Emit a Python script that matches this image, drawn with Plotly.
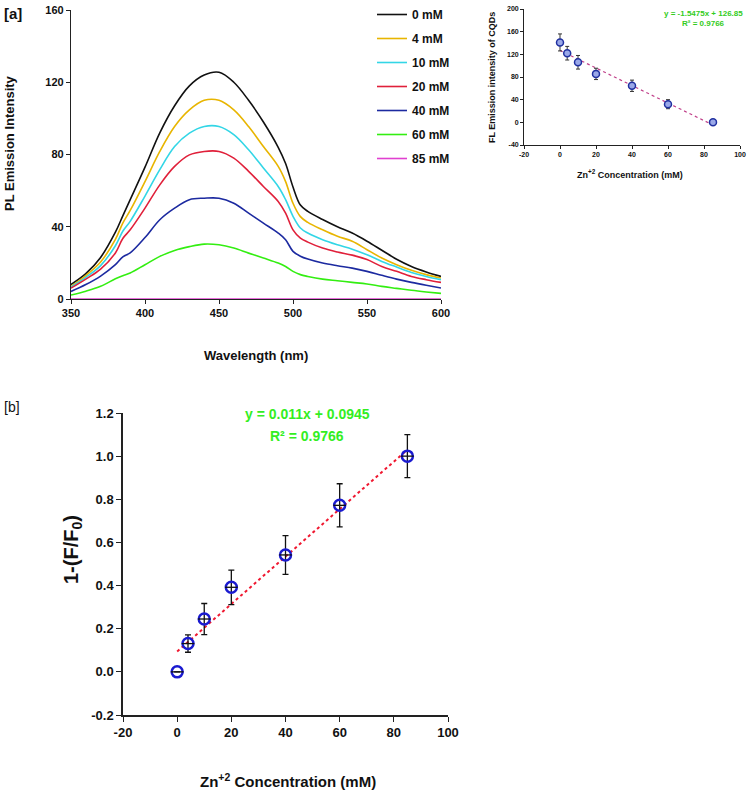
import plotly.graph_objects as go

# ---------------- data ----------------
wavelength = [350, 360, 370, 380, 385, 390, 400, 410, 420, 430, 440, 450, 460, 470, 480,
              490, 495, 500, 505, 510, 520, 530, 540, 550, 560, 570, 580, 590, 600]
pl_0mM = [8, 14, 23, 37, 46, 55, 73, 92, 107, 118, 124, 125.5, 120, 110, 98,
          84, 75, 62, 52, 48.5, 44, 40, 36.5, 32, 27, 22, 18, 15, 12.5]
pl_4mM = [7, 13, 20.5, 33, 42, 49, 65, 81.7, 95.5, 104.7, 110, 110, 104.7, 95.5, 84.4,
          73.4, 65, 53, 45.6, 42.4, 38.3, 34.7, 32, 27.3, 22.7, 19, 15.9, 13.5, 11.6]
pl_10mM = [6.6, 12, 18.5, 29.5, 37.5, 43, 57, 71.6, 84.4, 91.8, 95.5, 95.5, 91, 82.6, 72.5,
           62.3, 55, 45.8, 39.3, 36.5, 32.8, 30, 27.6, 24.5, 20.8, 17.7, 14.7, 12.5, 10.7]
pl_20mM = [6, 11, 16.5, 25.5, 33.5, 38.3, 50.3, 63.2, 73.4, 79.8, 81.7, 81.7, 78, 70.7, 62.3,
           54, 47.5, 38.3, 33.7, 31.5, 28.2, 26, 24.3, 21.8, 18, 15.3, 12.5, 10.7, 9.2]
pl_40mM = [4.2, 8, 12.7, 19, 23.3, 25.5, 34, 43.9, 50.3, 55, 55.8, 55.8, 53, 47.5, 42,
           36.5, 32.8, 26.4, 23.7, 22.1, 19.9, 18.4, 17.1, 15.3, 13.1, 11, 9.2, 7.6, 6.1]
pl_60mM = [2.2, 4.3, 7, 11.2, 12.9, 14.4, 19, 23.6, 26.9, 29, 30.4, 30, 28.2, 25.4, 22.7,
           19.9, 18, 15.3, 13.5, 12.5, 11, 10.1, 9.2, 8.3, 7, 5.9, 4.8, 3.9, 3.1]
pl_85mM = [0, 0, 0, 0, 0, 0, 0, 0, 0, 0, 0, 0, 0, 0, 0,
           0, 0, 0, 0, 0, 0, 0, 0, 0, 0, 0, 0, 0, 0]
spectra_labels = ["0 mM", "4 mM", "10 mM", "20 mM", "40 mM", "60 mM", "85 mM"]
spectra_colors = ["#111111", "#e8b500", "#33d6e6", "#e0203a", "#1c2aa0", "#33ee11", "#e040d0"]

conc = [0, 4, 10, 20, 40, 60, 85]
fl_intensity = [141, 122, 106, 85.5, 64.5, 32, 0]
fl_err = [15, 12, 12, 10, 10, 8, 2]
fl_slope, fl_intercept = -1.5475, 126.85

quench = [0, 0.131, 0.245, 0.392, 0.542, 0.772, 1.0]
quench_err = [0, 0.04, 0.072, 0.08, 0.09, 0.1, 0.1]
q_slope, q_intercept = 0.011, 0.0945
trend_x = [0, 85]

conc_ticks = [-20, 0, 20, 40, 60, 80, 100]
conc_ticktext = ["-20", "0", "20", "40", "60", "80", "100"]
fl_ticks = [-40, 0, 40, 80, 120, 160, 200]
fl_ticktext = ["-40", "0", "40", "80", "120", "160", "200"]
q_ticks = [-0.2, 0, 0.2, 0.4, 0.6, 0.8, 1.0, 1.2]
q_ticktext = ["-0.2", "0.0", "0.2", "0.4", "0.6", "0.8", "1.0", "1.2"]

FONT = "Liberation Sans, Arial, sans-serif"

fig = go.Figure()

# ---------------- panel a ----------------
series = [pl_0mM, pl_4mM, pl_10mM, pl_20mM, pl_40mM, pl_60mM, pl_85mM]
for i, (lab, ys, col) in enumerate(zip(spectra_labels, series, spectra_colors)):
    fig.add_trace(go.Scatter(x=wavelength, y=ys, mode="lines", name=lab,
                             line=dict(color=col, width=1.6, shape="spline", smoothing=1.0),
                             legendgroup=f"g{i}", xaxis="x", yaxis="y"))

# ---------------- inset ----------------
fig.add_trace(go.Scatter(x=trend_x, y=[fl_slope * v + fl_intercept for v in trend_x],
                         mode="lines", line=dict(color="#c0408a", width=1.2, dash="dot"),
                         showlegend=False, xaxis="x2", yaxis="y2"))
fig.add_trace(go.Scatter(x=conc, y=fl_intensity, mode="markers",
                         error_y=dict(type="data", array=fl_err, color="#333333", thickness=1, width=2),
                         marker=dict(symbol="circle", size=7, color="#9aa8e8",
                                     line=dict(color="#2030a0", width=1.5)),
                         showlegend=False, xaxis="x2", yaxis="y2"))

# ---------------- panel b ----------------
fig.add_trace(go.Scatter(x=trend_x, y=[q_slope * v + q_intercept for v in trend_x],
                         mode="lines", line=dict(color="#f01830", width=2, dash="dot"),
                         showlegend=False, xaxis="x3", yaxis="y3"))
fig.add_trace(go.Scatter(x=conc, y=quench, mode="markers",
                         error_y=dict(type="data", array=quench_err, color="#111111", thickness=1.3, width=3),
                         marker=dict(symbol="circle-open", size=11, color="#1a1ad0",
                                     line=dict(color="#1a1ad0", width=2.5)),
                         showlegend=False, xaxis="x3", yaxis="y3"))
fig.add_trace(go.Scatter(x=conc, y=quench, mode="markers",
                         marker=dict(symbol="line-ew", size=9, color="#111111",
                                     line=dict(color="#111111", width=1.3)),
                         showlegend=False, hoverinfo="skip", xaxis="x3", yaxis="y3"))

W, H = 750, 794
def px(x): return x / W
def py(y): return 1 - y / H

axis_common = dict(showgrid=False, zeroline=False, showline=True, linecolor="#222222",
                   ticks="outside", tickcolor="#222222", mirror=False, automargin=False)

fig.update_layout(
    width=W, height=H, margin=dict(l=0, r=0, t=0, b=0, pad=0, autoexpand=False),
    paper_bgcolor="white", plot_bgcolor="white",
    font=dict(family=FONT, color="#111111"),
    showlegend=True,
    legend=dict(x=px(372), y=1.0, xanchor="left", yanchor="top",
                font=dict(family=FONT, size=12, weight="bold"),
                traceorder="grouped", tracegroupgap=5, itemwidth=30,
                bgcolor="rgba(0,0,0,0)"),
    xaxis=dict(domain=[px(71), px(441)], range=[350, 600], anchor="y",
               tickvals=[350, 400, 450, 500, 550, 600], ticklen=4, linewidth=1.2,
               tickfont=dict(size=11, weight="bold"), **axis_common),
    yaxis=dict(domain=[py(299), py(10)], range=[0, 160], anchor="x",
               tickvals=[0, 40, 80, 120, 160], ticklen=4, linewidth=1.2,
               tickfont=dict(size=11, weight="bold"), **axis_common),
    xaxis2=dict(domain=[px(524), px(740)], range=[-20, 100], anchor="y2",
                tickvals=conc_ticks, ticktext=conc_ticktext, ticklen=3, linewidth=0.8,
                tickfont=dict(size=7, weight="bold"), **axis_common),
    yaxis2=dict(domain=[py(145), py(9)], range=[-40, 200], anchor="x2",
                tickvals=fl_ticks, ticktext=fl_ticktext, ticklen=3, linewidth=0.8,
                tickfont=dict(size=7, weight="bold"), **axis_common),
    xaxis3=dict(domain=[px(123), px(448)], range=[-20, 100], anchor="y3",
                tickvals=conc_ticks, ticktext=conc_ticktext, ticklen=5, linewidth=1.5,
                tickfont=dict(size=13, weight="bold"), **axis_common),
    yaxis3=dict(domain=[py(715), py(413)], range=[-0.2, 1.2], anchor="x3",
                tickvals=q_ticks, ticktext=q_ticktext, ticklen=5,
                linewidth=1.5, tickfont=dict(size=13, weight="bold"), **axis_common),
)

ann = [
    dict(text="<b>[a]</b>", x=px(2), y=py(14), xanchor="left", yanchor="middle", font=dict(size=15)),
    dict(text="<b>PL Emission Intensity</b>", x=px(10), y=py(143), textangle=-90, xanchor="center", yanchor="middle", font=dict(size=13)),
    dict(text="<b>Wavelength (nm)</b>", x=px(256), y=py(355), xanchor="center", yanchor="middle", font=dict(size=13)),
    dict(text="<b>y = -1.5475x + 126.85</b>", x=px(703), y=py(14), xanchor="center", yanchor="middle", font=dict(size=8, color="#33cc22")),
    dict(text="<b>R² = 0.9766</b>", x=px(703), y=py(24), xanchor="center", yanchor="middle", font=dict(size=8, color="#33cc22")),
    dict(text="<b>FL Emission intensity of CQDs</b>", x=px(492), y=py(78), textangle=-90, xanchor="center", yanchor="middle", font=dict(size=9)),
    dict(text="<b>Zn<sup>+2</sup> Concentration (mM)</b>", x=px(630), y=py(174), xanchor="center", yanchor="middle", font=dict(size=9)),
    dict(text="[b]", x=px(2), y=py(407), xanchor="left", yanchor="middle", font=dict(size=14)),
    dict(text="<b>y = 0.011x + 0.0945</b>", x=px(307), y=py(414), xanchor="center", yanchor="middle", font=dict(size=14, color="#33ee22")),
    dict(text="<b>R² = 0.9766</b>", x=px(307), y=py(436), xanchor="center", yanchor="middle", font=dict(size=14, color="#33ee22")),
    dict(text="<b>1-(F/F<sub>0</sub>)</b>", x=px(72), y=py(550), textangle=-90, xanchor="center", yanchor="middle", font=dict(size=20)),
    dict(text="<b>Zn<sup>+2</sup> Concentration (mM)</b>", x=px(288), y=py(780), xanchor="center", yanchor="middle", font=dict(size=15)),
]
for a in ann:
    a.update(xref="paper", yref="paper", showarrow=False)
fig.update_layout(annotations=ann)

fig.write_html("out.html")
